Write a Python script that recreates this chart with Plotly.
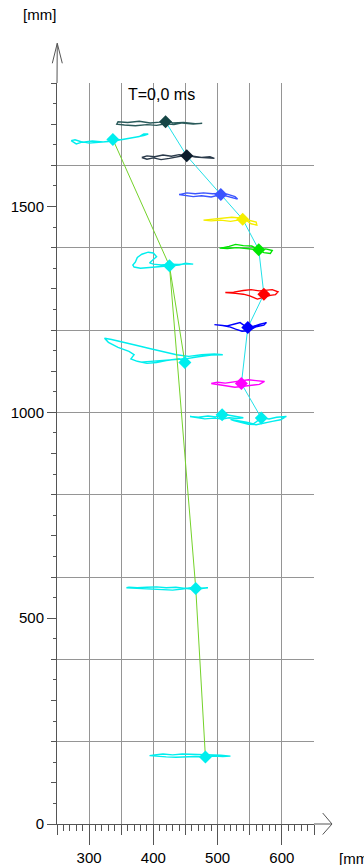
import plotly.graph_objects as go

# ---------------- data (mm) ----------------
# marker trajectories
head_top_x = [476, 462, 445, 432, 419, 405, 390, 372, 355, 343, 345, 360, 378, 395, 410, 419, 430, 447, 465, 476]
head_top_y = [1702, 1700, 1703, 1699, 1701, 1697, 1699, 1696, 1698, 1700, 1706, 1704, 1707, 1703, 1705, 1710, 1703, 1704, 1701, 1702]

head_left_x = [272, 280, 290, 300, 315, 330, 337, 350, 365, 378, 385, 392, 385, 372, 358, 345, 337, 322, 305, 290, 278, 272]
head_left_y = [1660, 1652, 1657, 1654, 1656, 1658, 1663, 1662, 1666, 1670, 1676, 1676, 1672, 1668, 1665, 1661, 1660, 1657, 1659, 1656, 1662, 1660]

neck_x = [382, 390, 400, 412, 425, 438, 452, 465, 478, 490, 495, 488, 475, 462, 452, 440, 428, 415, 402, 390, 382]
neck_y = [1619, 1615, 1618, 1614, 1617, 1621, 1625, 1620, 1618, 1616, 1617, 1621, 1619, 1622, 1624, 1626, 1622, 1625, 1621, 1623, 1619]

blue1_x = [440, 450, 462, 475, 490, 505, 515, 525, 531, 527, 515, 505, 492, 478, 465, 452, 440]
blue1_y = [1529, 1526, 1524, 1526, 1523, 1529, 1525, 1520, 1518, 1524, 1530, 1532, 1531, 1533, 1531, 1533, 1529]

yellow_x = [478, 490, 505, 520, 532, 540, 550, 560, 561, 552, 545, 535, 522, 508, 493, 480, 478]
yellow_y = [1467, 1465, 1467, 1464, 1467, 1469, 1466, 1462, 1455, 1458, 1466, 1472, 1474, 1472, 1470, 1469, 1467]

green_x = [503, 515, 530, 545, 555, 564, 575, 585, 582, 572, 564, 553, 540, 528, 518, 505]
green_y = [1399, 1398, 1400, 1397, 1396, 1395, 1397, 1393, 1386, 1388, 1395, 1404, 1405, 1408, 1403, 1399]

shoulder_x = [462, 450, 440, 427, 415, 402, 392, 380, 370, 368, 372, 375, 382, 392, 400, 405, 399, 394, 400, 412, 427, 440, 452, 462]
shoulder_y = [1360, 1362, 1358, 1356, 1354, 1352, 1351, 1350, 1353, 1358, 1365, 1376, 1384, 1389, 1387, 1378, 1370, 1363, 1360, 1358, 1360, 1359, 1361, 1360]

red_x = [512, 525, 540, 552, 565, 575, 585, 594, 590, 582, 572, 562, 550, 540, 528, 515, 512]
red_y = [1291, 1292, 1296, 1298, 1295, 1296, 1298, 1293, 1286, 1284, 1280, 1275, 1283, 1287, 1289, 1290, 1291]

blue2_x = [495, 505, 515, 525, 535, 546, 556, 566, 576, 572, 560, 548, 538, 528, 518, 508, 495]
blue2_y = [1213, 1211, 1210, 1214, 1218, 1206, 1209, 1214, 1218, 1212, 1208, 1198, 1197, 1202, 1208, 1211, 1213]

hand_x = [380, 395, 410, 430, 450, 470, 490, 508, 495, 475, 455, 436, 415, 394, 373, 353, 335, 324, 330, 345, 362, 370, 365, 375, 390, 405, 420, 440, 450]
hand_y = [1122, 1124, 1125, 1128, 1130, 1135, 1139, 1140, 1142, 1140, 1136, 1140, 1147, 1155, 1163, 1171, 1177, 1180, 1170, 1158, 1148, 1140, 1130, 1124, 1119, 1121, 1126, 1130, 1122]

magenta_x = [490, 500, 512, 525, 537, 548, 560, 573, 565, 552, 540, 527, 515, 503, 490]
magenta_y = [1070, 1073, 1071, 1074, 1076, 1079, 1077, 1075, 1068, 1066, 1063, 1061, 1064, 1066, 1070]

hipA_x = [457, 470, 485, 497, 507, 520, 532, 540, 530, 518, 507, 495, 480, 465, 457]
hipA_y = [990, 988, 991, 989, 996, 992, 990, 987, 985, 987, 984, 986, 984, 987, 990]

hipB_x = [520, 532, 545, 556, 568, 580, 592, 607, 598, 585, 572, 560, 548, 536, 525, 520]
hipB_y = [983, 980, 976, 972, 987, 984, 988, 990, 982, 978, 974, 970, 971, 975, 980, 983]

knee_x = [358, 370, 385, 400, 415, 430, 445, 458, 466, 478, 485, 475, 462, 450, 435, 420, 405, 390, 375, 362, 358]
knee_y = [574, 573, 571, 570, 569, 568, 571, 574, 572, 573, 574, 572, 570, 572, 575, 574, 576, 575, 574, 575, 574]

ankle_x = [394, 405, 420, 435, 450, 465, 481, 495, 508, 520, 505, 490, 475, 460, 445, 430, 415, 402, 394]
ankle_y = [166, 164, 163, 162, 163, 164, 163, 165, 164, 165, 167, 168, 169, 169, 170, 168, 170, 168, 166]

# current marker positions (diamonds)
marker_names = ["head_top", "head_left", "neck", "blue1", "yellow", "green", "shoulder",
                "red", "blue2", "hand", "magenta", "hipA", "hipB", "knee", "ankle"]
marker_x = [419, 337, 452, 505, 539, 564, 425, 572, 547, 449, 537, 507, 568, 466, 481]
marker_y = [1706, 1663, 1623, 1529, 1469, 1395, 1356, 1287, 1206, 1121, 1070, 994, 986, 572, 163]
marker_colors = ["#164646", "#00eeee", "#0c1c2c", "#3b55ff", "#f5ee00", "#00e600", "#00eeee",
                 "#ff0000", "#0000ff", "#00eeee", "#ff00ff", "#00eeee", "#00eeee", "#00eeee", "#00eeee"]
traj_colors = ["#2a5a5a", "#00eeee", "#2a3a4a", "#3b55ff", "#f5ee00", "#00e600", "#00eeee",
               "#ff0000", "#0000ff", "#00eeee", "#ff00ff", "#00eeee", "#00eeee", "#00eeee", "#00eeee"]

trajectories = [(head_top_x, head_top_y), (head_left_x, head_left_y), (neck_x, neck_y),
                (blue1_x, blue1_y), (yellow_x, yellow_y), (green_x, green_y),
                (shoulder_x, shoulder_y), (red_x, red_y), (blue2_x, blue2_y),
                (hand_x, hand_y), (magenta_x, magenta_y), (hipA_x, hipA_y),
                (hipB_x, hipB_y), (knee_x, knee_y), (ankle_x, ankle_y)]

# segment chains (by marker name)
cyan_chain = ["head_top", "neck", "blue1", "yellow", "green", "red", "blue2", "magenta", "hipB"]
green_chain1 = ["head_left", "shoulder", "knee", "ankle"]
green_chain2 = ["shoulder", "hand"]

x_tick_labels = [300, 400, 500, 600]
y_tick_labels = [0, 500, 1000, 1500]

# ---------------- figure ----------------
fig = go.Figure()
idx = {n: i for i, n in enumerate(marker_names)}

for (tx, ty), c in zip(trajectories, traj_colors):
    fig.add_trace(go.Scatter(x=tx, y=ty, mode="lines", line=dict(color=c, width=1.4),
                             hoverinfo="skip", showlegend=False))

for chain, col in [(cyan_chain, "#22e0e8"), (green_chain1, "#74d22a"), (green_chain2, "#74d22a")]:
    fig.add_trace(go.Scatter(x=[marker_x[idx[n]] for n in chain],
                             y=[marker_y[idx[n]] for n in chain],
                             mode="lines", line=dict(color=col, width=1),
                             hoverinfo="skip", showlegend=False))

fig.add_trace(go.Scatter(x=marker_x, y=marker_y, mode="markers",
                         marker=dict(symbol="diamond", size=10, color=marker_colors, line=dict(width=0)),
                         showlegend=False))

# dummy traces for overlay axes
fig.add_trace(go.Scatter(x=[], y=[], xaxis="x2", yaxis="y", showlegend=False))
fig.add_trace(go.Scatter(x=[], y=[], xaxis="x", yaxis="y2", showlegend=False))
fig.add_trace(go.Scatter(x=[], y=[], xaxis="x", yaxis="y3", showlegend=False))

axcol = "#555555"
gridcol = "#959595"
font = "Arial, Liberation Sans, sans-serif"

fig.update_layout(
    width=364, height=865,
    margin=dict(l=57, r=50, t=83, b=41, autoexpand=False),
    paper_bgcolor="white", plot_bgcolor="white",
    font=dict(family=font, size=15, color="black"),
    showlegend=False,
    xaxis=dict(range=[250, 650], tickvals=x_tick_labels, ticktext=[str(v) for v in x_tick_labels],
               ticks="outside", ticklen=20, tickcolor=axcol, tickwidth=1, automargin=False,
               showline=True, linecolor=axcol, linewidth=1, showgrid=False, zeroline=False,
               minor=dict(dtick=10, tick0=250, ticks="outside", ticklen=6, tickcolor=axcol, showgrid=False),
               tickfont=dict(size=15, color="black"), fixedrange=True),
    xaxis2=dict(range=[250, 650], overlaying="x", anchor="y", side="bottom", automargin=False,
                tick0=250, dtick=50, ticks="outside", ticklen=10, tickcolor=axcol,
                showticklabels=False, showgrid=True, gridcolor=gridcol, gridwidth=1,
                showline=False, zeroline=False),
    yaxis=dict(range=[0, 1800], tickvals=y_tick_labels, ticktext=[str(v) for v in y_tick_labels],
               ticks="outside", ticklen=9, tickcolor=axcol, automargin=False,
               showline=True, linecolor=axcol, linewidth=1, showgrid=False, zeroline=False,
               minor=dict(dtick=50, tick0=0, ticks="outside", ticklen=3, tickcolor=axcol, showgrid=False),
               tickfont=dict(size=15, color="black"), fixedrange=True),
    yaxis2=dict(range=[0, 1800], overlaying="y", anchor="x", side="left", automargin=False,
                tick0=0, dtick=100, ticks="outside", ticklen=5, tickcolor=axcol,
                showticklabels=False, showgrid=False, showline=False, zeroline=False),
    yaxis3=dict(range=[0, 1800], overlaying="y", anchor="x", side="left", automargin=False,
                tick0=0, dtick=200, ticks="", showticklabels=False,
                showgrid=True, gridcolor=gridcol, gridwidth=1, showline=False, zeroline=False),
)

# axis extensions with open arrow heads (paper coords)
shapes = [
    dict(type="line", xref="paper", yref="paper", x0=0, y0=1, x1=0.001, y1=1.0536, line=dict(color=axcol, width=1)),
    dict(type="path", xref="paper", yref="paper",
         path="M -0.0183 1.0266 L 0.001 1.0536 L 0.0206 1.0266", line=dict(color=axcol, width=1)),
    dict(type="line", xref="paper", yref="paper", x0=1, y0=0, x1=1.070, y1=0, line=dict(color=axcol, width=1)),
    dict(type="path", xref="paper", yref="paper",
         path="M 1.0339 0.0148 L 1.070 0 L 1.0339 -0.0142", line=dict(color=axcol, width=1)),
]
fig.update_layout(shapes=shapes)

fig.add_annotation(text="T=0,0 ms", xref="paper", yref="paper", x=0.2685, y=0.985,
                   xanchor="left", yanchor="middle", showarrow=False, font=dict(size=16, color="black"))
fig.add_annotation(text="[mm]", xref="paper", yref="paper", x=-0.14, y=1.0918,
                   xanchor="left", yanchor="middle", showarrow=False, font=dict(size=15, color="black"))
fig.add_annotation(text="[mm]", xref="paper", yref="paper", x=1.0895, y=-0.0459,
                   xanchor="left", yanchor="middle", showarrow=False, font=dict(size=15, color="black"))

fig.write_html("out.html")
